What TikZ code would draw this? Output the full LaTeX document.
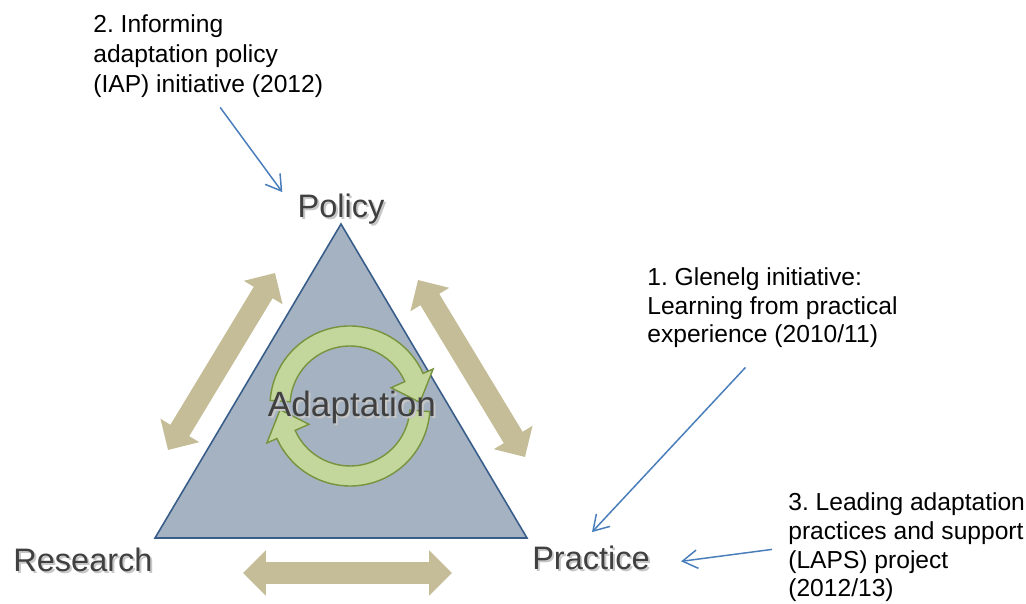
\documentclass[tikz,border=0pt]{standalone}
\usepackage{fontspec}
\setmainfont{Liberation Sans}
\usetikzlibrary{arrows.meta, calc, positioning}
\frenchspacing
\definecolor{triblue}{RGB}{165,178,193}
\definecolor{triedge}{RGB}{56,93,138}
\definecolor{linktan}{RGB}{196,189,151}
\definecolor{ringgreen}{RGB}{195,214,155}
\definecolor{ringedge}{RGB}{119,147,60}
\definecolor{noteblue}{RGB}{74,126,187}
\definecolor{labelgray}{RGB}{64,64,64}
\newcommand{\shadowed}[1]{\makebox[0pt][l]{\hspace{1.1pt}\raisebox{-1.1pt}{\color{black!22}#1}}#1}
\tikzset{
    corner label/.style = {text=labelgray, font=\fontsize{18.5}{22}\selectfont, inner sep=0pt, anchor=base},
    note/.style = {font=\fontsize{14}{16.5}\selectfont, align=left, inner sep=0pt, anchor=base west},
    note link/.style = {draw=noteblue, line width=0.85pt, -{Straight Barb[length=8.5pt, width=10.5pt]}},
    tan link/.style = {draw=linktan, line width=12.5pt, {Triangle[width=25pt, length=13pt]}-{Triangle[width=25pt, length=13pt]}},
    cycle arrow/.style = {fill=ringgreen, draw=ringedge, line width=0.8pt},
}

\begin{document}
\begin{tikzpicture}[x=0.02cm, y=0.02cm]
    \useasboundingbox (0,0) rectangle (1026,604);

    \coordinate (apex) at (341,380);
    \coordinate (left) at (155,66);
    \coordinate (right) at (527,66);
    \filldraw[fill=triblue, draw=triedge, line width=0.9pt] (apex) -- (left) -- (right) -- cycle;

    \coordinate (pr-top) at (275,331);
    \coordinate (pr-bot) at (168,154);
    \coordinate (pp-top) at (418,324);
    \coordinate (pp-bot) at (525,147);
    \coordinate (rp-left) at (243,31);
    \coordinate (rp-right) at (452,31);
    \draw[tan link] (pr-top) -- (pr-bot);
    \draw[tan link] (pp-top) -- (pp-bot);
    \draw[tan link] (rp-left) -- (rp-right);

    \coordinate (hub) at (350,198);
    \filldraw[cycle arrow] ($(hub)+(176:80)$) arc[start angle=176, end angle=24, radius=80]
        -- ($(hub)+(24:91)$) -- ($(hub)+(3:70)$) -- ($(hub)+(24:45)$) -- ($(hub)+(24:60)$)
        arc[start angle=24, end angle=176, radius=60] -- cycle;
    \filldraw[cycle arrow] ($(hub)+(-4:80)$) arc[start angle=-4, end angle=-156, radius=80]
        -- ($(hub)+(-156:91)$) -- ($(hub)+(-177:70)$) -- ($(hub)+(-156:45)$) -- ($(hub)+(-156:60)$)
        arc[start angle=-156, end angle=-4, radius=60] -- cycle;
    \node[corner label, font=\fontsize{20}{24}\selectfont] (adapt) at (352,187) {\shadowed{Adaptation}};

    \node[corner label] (policy) at (341,386) {\shadowed{Policy}};
    \node[corner label] (research) at (83,32) {\shadowed{Research}};
    \node[corner label] (practice) at (591,34) {\shadowed{Practice}};

    \node[note, font=\fontsize{14}{17.3}\selectfont] (iap) at (93,511) {2. Informing\\adaptation policy\\(IAP) initiative (2012)};
    \node[note] (glenelg) at (647,261) {1. Glenelg initiative:\\Learning from practical\\experience (2010/11)};
    \node[note, font=\fontsize{14}{16.4}\selectfont] (laps) at (788,7) {3. Leading adaptation\\practices and support\\(LAPS) project\\(2012/13)};

    \draw[note link] ($(iap.south)+(12,-9)$) -- ($(policy.north west)+(-15,2)$);
    \draw[note link] ($(glenelg.south)+(-27,-19)$) -- ($(practice.north)+(1,14)$);
    \draw[note link] ($(laps.west)+(-16,-2)$) -- ($(practice.east)+(31,-2)$);
\end{tikzpicture}
\end{document}
